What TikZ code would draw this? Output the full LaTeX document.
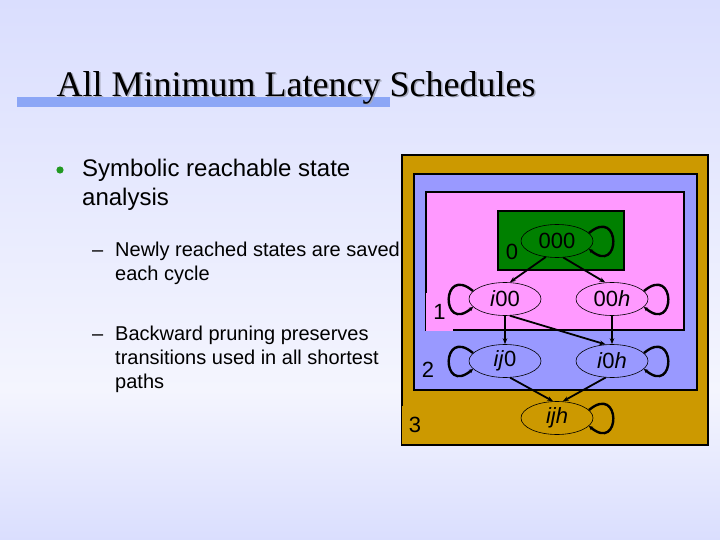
\documentclass[tikz,border=0pt]{standalone}
\usepackage{fontspec}
\setmainfont{Liberation Sans}
\newfontfamily\titlefont{Liberation Serif}
\usetikzlibrary{arrows.meta,shapes.geometric}
\definecolor{bgtop}{HTML}{DADEFE}
\definecolor{bgmid}{HTML}{F4F5FE}
\definecolor{barblue}{HTML}{8CA6F6}
\definecolor{shadowgray}{HTML}{A4A6B8}
\definecolor{gold}{HTML}{CC9900}
\definecolor{lblue}{HTML}{9999FF}
\definecolor{lpink}{HTML}{FF99FF}
\definecolor{dgreen}{HTML}{008000}
\definecolor{dotgreen}{HTML}{229922}

\begin{document}
\begin{tikzpicture}[x=1pt,y=-1pt,>=Stealth,
  every node/.style={font=\fontsize{22}{26}\selectfont,inner sep=0pt},
  titletext/.style={anchor=base west,font=\titlefont\fontsize{36}{40}\selectfont},
  mainline/.style={anchor=base west,font=\fontsize{24}{28}\selectfont},
  subline/.style={anchor=base west,font=\fontsize{20}{24}\selectfont},
  state/.style={ellipse,draw,line width=.6pt,minimum width=72pt,minimum height=33pt},
  trans/.style={-{Stealth[length=6pt,width=4.5pt]},line width=1.8pt},
  selfloop/.style={-{Stealth[length=4pt,width=4pt]},line width=2.4pt},
  region/.style={draw,line width=1.2pt},
  level/.style={minimum width=27pt,minimum height=38pt}]
\useasboundingbox (0,0) rectangle (720,540);
\shade[top color=bgtop,bottom color=bgmid] (0,0) rectangle (720,390);
\shade[top color=bgmid,bottom color=bgtop] (0,390) rectangle (720,540);
% title with its bar
\fill[barblue] (17,97) rectangle (390,107);
\node[titletext,text=shadowgray] (titleshadow) at (58,98) {All Minimum Latency Schedules};
\node[titletext] (title) at (56.5,96.5) {All Minimum Latency Schedules};
% bullet text
\fill[dotgreen] (60,170) circle (3.6);
\node[mainline] (bul1) at (82,177) {Symbolic reachable state};
\node[mainline] (bul1b) at (82,206) {analysis};
\node[subline] (dash1) at (92,256) {–};
\node[subline] (sub1) at (115,256) {Newly reached states are saved};
\node[subline] (sub1b) at (115,280) {each cycle};
\node[subline] (dash2) at (92,340) {–};
\node[subline] (sub2) at (115,340) {Backward pruning preserves};
\node[subline] (sub2b) at (115,364) {transitions used in all shortest};
\node[subline] (sub2c) at (115,388) {paths};
% nested regions
\filldraw[fill=gold,region] (402,155) rectangle (708,445);
\filldraw[fill=lblue,region] (414,174) rectangle (697,390);
\filldraw[fill=lpink,region] (426,192) rectangle (684,330);
\filldraw[fill=dgreen,region] (498,211) rectangle (624,270);
\node[level] (lv0) at (512,252) {0};
\node[level,fill=lpink] (lv1) at (439.5,312) {1};
\node[level,fill=lblue] (lv2) at (428,370) {2};
\node[level,fill=gold] (lv3) at (415,425) {3};
% states
\node[state] (s000) at (557,241) {000};
\node[state] (si00) at (505,299) {\textit{i}00};
\node[state] (s00h) at (612,299) {00\textit{h}};
\node[state] (sij0) at (505,361) {\textit{ij}0};
\node[state] (si0h) at (612,361) {\textit{i}0\textit{h}};
\node[state] (sijh) at (557,418) {\textit{ijh}};
% transitions
\draw[trans] (s000.235) -- (si00.74);
\draw[trans] (s000.-69) -- (s00h.112);
\draw[trans] (si00.south) -- (sij0.north);
\draw[trans] (si00.-74) -- (si0h.111);
\draw[trans] (s00h.south) -- (si0h.north);
\draw[trans] (sij0.-73) -- (sijh.103);
\draw[trans] (si0h.-111) -- (sijh.71);
% self loops
\draw[selfloop] (s000.14) .. controls +(-40:42) and +(40:42) .. (s000.-14);
\draw[selfloop] (s00h.14) .. controls +(-40:42) and +(40:42) .. (s00h.-14);
\draw[selfloop] (si0h.14) .. controls +(-40:42) and +(40:42) .. (si0h.-14);
\draw[selfloop] (sijh.14) .. controls +(-40:42) and +(40:42) .. (sijh.-14);
\draw[selfloop] (si00.166) .. controls +(-140:42) and +(140:42) .. (si00.194);
\draw[selfloop] (sij0.166) .. controls +(-140:42) and +(140:42) .. (sij0.194);
\end{tikzpicture}
\end{document}
